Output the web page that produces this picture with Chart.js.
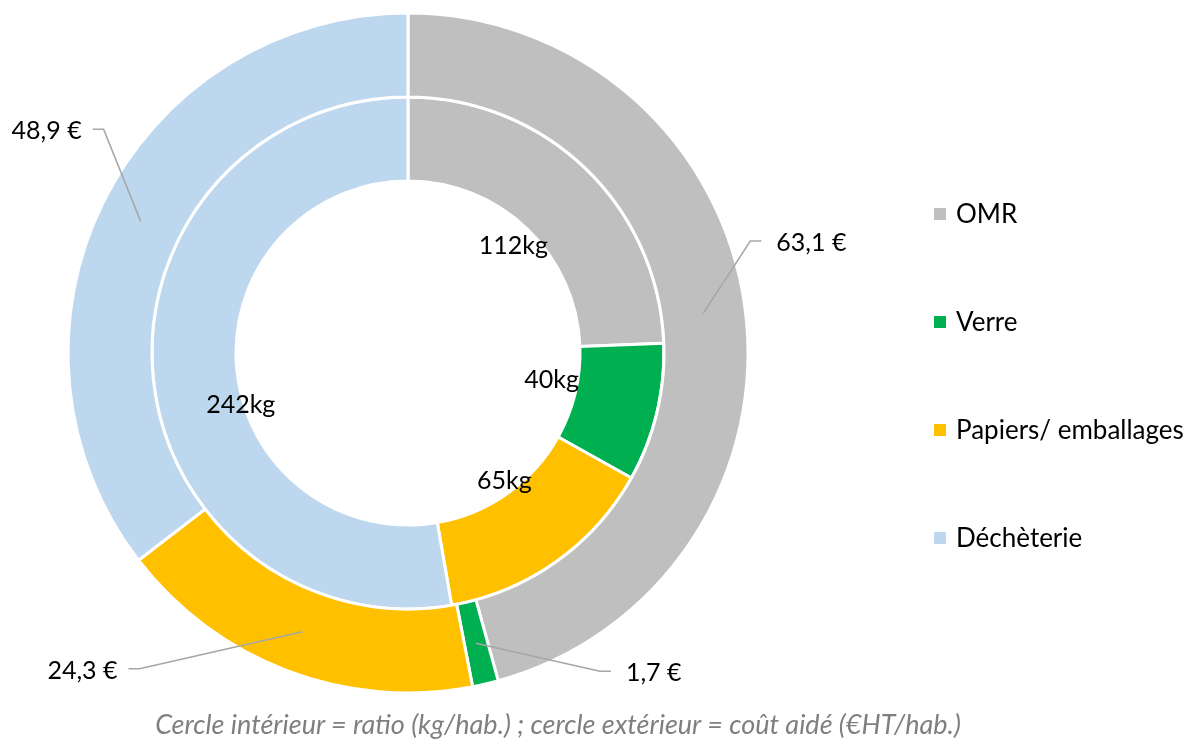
<!DOCTYPE html>
<html lang="fr">
<head>
<meta charset="utf-8">
<title>Ratio et coût aidé par flux</title>
<script src="https://cdn.jsdelivr.net/npm/chart.js@4/dist/chart.umd.min.js"></script>
<style>
  html, body { margin: 0; padding: 0; background: #fff; }
  #wrap { position: relative; width: 1197px; height: 742px; }
  #caption {
    position: absolute; left: 0; width: 1116px; top: 708px; line-height: 32px;
    text-align: center; font-family: Lato, sans-serif; font-style: italic; font-size: 27px; color: #7f7f7f;
  }
</style>
</head>
<body>
<div id="wrap">
  <canvas id="chart"></canvas>
  <div id="caption">Cercle intérieur = ratio (kg/hab.) ; cercle extérieur = coût aidé (€HT/hab.)</div>
</div>
<script>
(function () {
    'use strict';

    // ====== Données ======
    const categories = ['OMR', 'Verre', 'Papiers/ emballages', 'Déchèterie'];
    const ratioKg = [112, 40, 65, 242];          // cercle intérieur (kg/hab.)
    const coutAide = [63.1, 1.7, 24.3, 48.9];    // cercle extérieur (€HT/hab.)
    const couleurs = ['#bfbfbf', '#00b050', '#ffc000', '#bdd7ee'];

    const FONT = '25px Lato, sans-serif';
    const LEGEND_FONT = '26px Lato, sans-serif';
    const fmtEuro = (v) => v.toFixed(1).replace('.', ',') + ' €';

    // ====== Étiquettes + légende dessinées à la main ======
    const labelsPlugin = {
        id: 'doubleRingLabels',
        afterDatasetsDraw(chart, _args, opts) {
            const ctx = chart.ctx;
            ctx.save();
            ctx.font = FONT;
            ctx.fillStyle = '#000';
            ctx.textBaseline = 'middle';

            // cercle extérieur : lignes de rappel
            const outer = chart.getDatasetMeta(0);
            outer.data.forEach((arc, i) => {
                const p = arc.getProps(['x', 'y', 'startAngle', 'endAngle', 'innerRadius', 'outerRadius'], true);
                const a = (p.startAngle + p.endAngle) / 2;
                const r = (p.innerRadius + p.outerRadius) / 2;
                const ax = p.x + Math.cos(a) * r, ay = p.y + Math.sin(a) * r;
                const [dx, dy] = opts.leader[i];
                const ex = ax + dx, ey = ay + dy;
                const right = dx > 0;
                const tx = ex + (right ? opts.tail : -opts.tail);
                ctx.strokeStyle = '#a6a6a6';
                ctx.lineWidth = 1.5;
                ctx.beginPath();
                ctx.moveTo(ax, ay);
                ctx.lineTo(ex, ey);
                ctx.lineTo(tx, ey);
                ctx.stroke();
                ctx.textAlign = right ? 'left' : 'right';
                ctx.fillText(fmtEuro(chart.data.datasets[0].data[i]), tx + (right ? opts.gapR : -opts.gapL), ey + 2);
            });

            // cercle intérieur
            const inner = chart.getDatasetMeta(1);
            ctx.textAlign = 'center';
            inner.data.forEach((arc, i) => {
                const p = arc.getProps(['x', 'y', 'startAngle', 'endAngle', 'innerRadius'], true);
                const a = (p.startAngle + p.endAngle) / 2;
                const r = p.innerRadius * 0.9;
                const [ox, oy] = opts.innerShift[i];
                ctx.fillText(chart.data.datasets[1].data[i] + 'kg', p.x + Math.cos(a) * r + ox, p.y + Math.sin(a) * r + oy);
            });

            // légende
            ctx.textAlign = 'left';
            ctx.font = LEGEND_FONT;
            chart.data.labels.forEach((lab, i) => {
                const y = opts.legendTop + i * opts.legendStep;
                ctx.fillStyle = couleurs[i];
                ctx.fillRect(opts.legendX, y - 6, 12, 12);
                ctx.fillStyle = '#000';
                ctx.fillText(lab, opts.legendX + 22, y + 1);
            });
            ctx.restore();
        }
    };

    new Chart(document.getElementById('chart'), {
        type: 'doughnut',
        data: {
            labels: categories,
            datasets: [
                { label: 'Coût aidé (€HT/hab.)', data: coutAide, backgroundColor: couleurs, borderColor: '#fff', borderWidth: 3 },
                { label: 'Ratio (kg/hab.)', data: ratioKg, backgroundColor: couleurs, borderColor: '#fff', borderWidth: 3 }
            ]
        },
        options: {
            responsive: true,
            maintainAspectRatio: false,
            animation: false,
            cutout: '50.6%',
            layout: { padding: { left: 66.5, right: 447.5, top: 11.5, bottom: 47.5 } },
            plugins: {
                legend: { display: false },
                tooltip: { enabled: false },
                doubleRingLabels: {
                    leader: [[47, -72], [124, 28], [-163, 37], [-37, -92]],
                    tail: 11, gapR: 15, gapL: 11,
                    innerShift: [[-2, 4], [-7, -9], [7, 2], [-13, 39]],
                    legendX: 934, legendTop: 214, legendStep: 108
                }
            }
        },
        plugins: [labelsPlugin]
    });
})();
</script>
</body>
</html>
